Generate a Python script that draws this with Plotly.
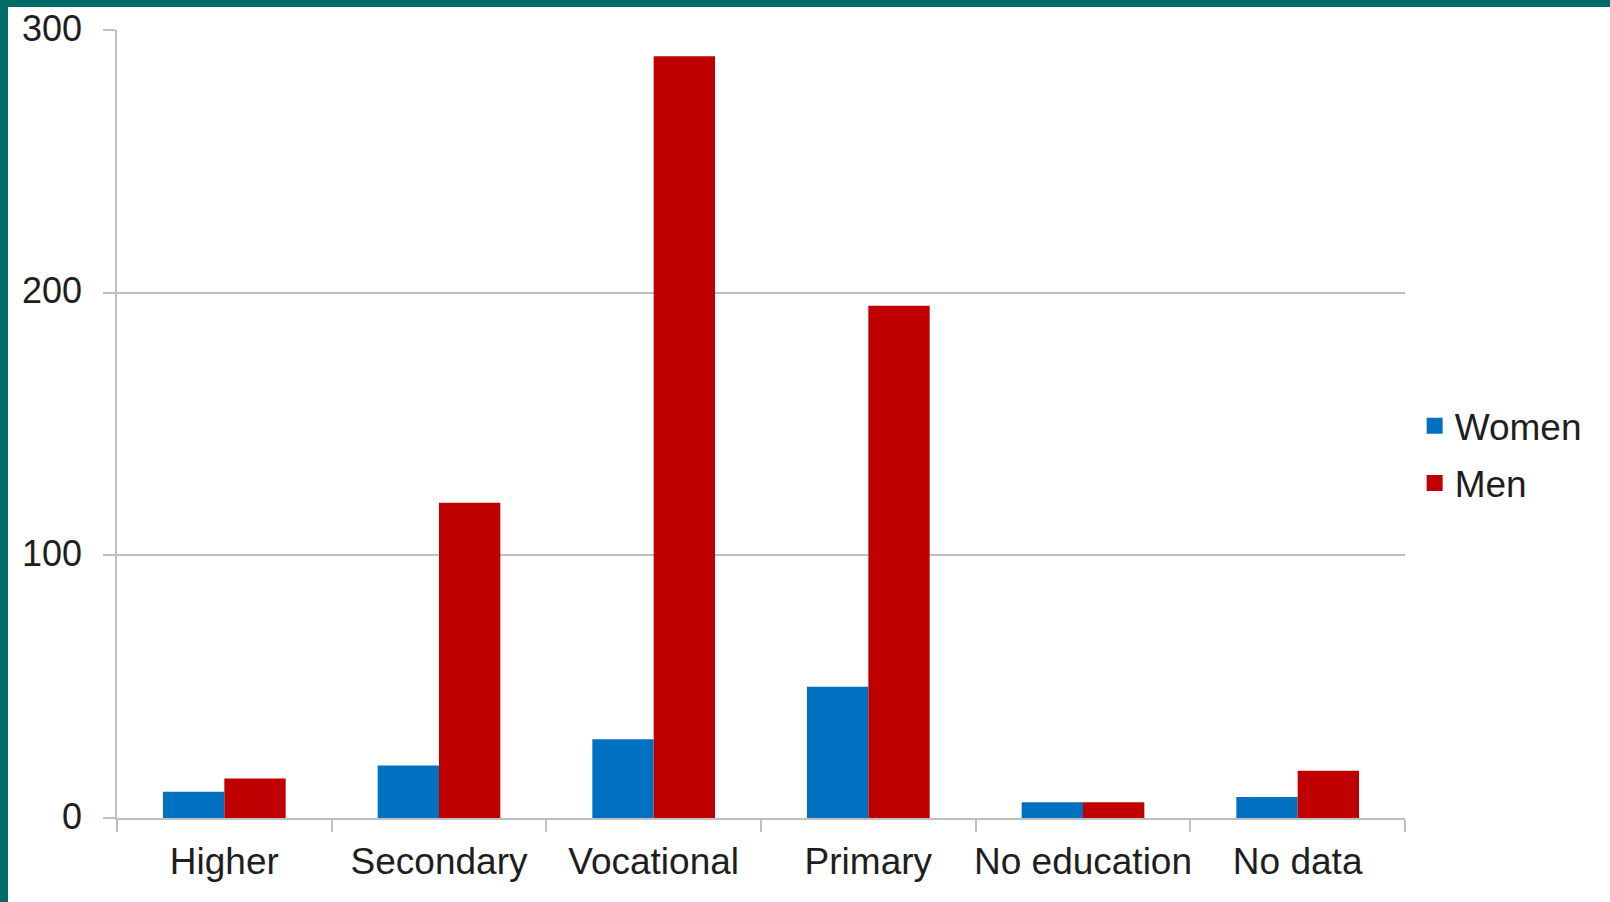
import plotly.graph_objects as go

categories = ["Higher", "Secondary", "Vocational", "Primary", "No education", "No data"]
women = [10, 20, 30, 50, 6, 8]
men = [15, 120, 290, 195, 6, 18]
y_ticks = [0, 100, 200, 300]

W, H = 1610, 902
ML, MR, MT, MB = 117, 205, 30, 84
PW, PH = W - ML - MR, H - MT - MB

BLUE = "#0070C0"
RED = "#C00000"
TEAL = "#006B67"
GRID = "#BFBFBF"
TXT = "#1E1E1E"
FONT = "Liberation Sans, Arial, sans-serif"

fig = go.Figure()
fig.add_trace(go.Bar(x=categories, y=women, name="Women", marker=dict(color=BLUE, line=dict(width=0)),
                     showlegend=False))
fig.add_trace(go.Bar(x=categories, y=men, name="Men", marker=dict(color=RED, line=dict(width=0)),
                     showlegend=False))
# legend entries
for nm, col, grp in [("Women", BLUE, "a"), ("Men", RED, "b")]:
    fig.add_trace(go.Scatter(x=[None], y=[None], mode="markers", name=nm, legendgroup=grp,
                             marker=dict(symbol="square", size=19, color=col)))

# teal frame decoration (top and left)
fig.add_shape(type="rect", xref="paper", yref="paper",
              x0=-ML / PW - 0.01, x1=(W - ML) / PW + 0.01, y0=1 + (MT - 7) / PH, y1=1 + MT / PH + 0.02,
              fillcolor=TEAL, line=dict(width=0), layer="above")
fig.add_shape(type="rect", xref="paper", yref="paper",
              x0=-ML / PW - 0.01, x1=-(ML - 8) / PW, y0=-MB / PH - 0.05, y1=1 + MT / PH + 0.02,
              fillcolor=TEAL, line=dict(width=0), layer="above")

fig.update_layout(
    width=W, height=H,
    margin=dict(l=ML, r=MR, t=MT, b=MB, pad=0, autoexpand=False),
    paper_bgcolor="white", plot_bgcolor="white",
    barmode="group", bargap=1.5 / 3.5, bargroupgap=0,
    font=dict(family=FONT, size=37, color=TXT),
    hovermode=False,
    legend=dict(x=1.0075, xanchor="left", y=0.461, yanchor="middle",
                font=dict(family=FONT, size=37, color=TXT),
                traceorder="grouped", tracegroupgap=6, itemsizing="trace",
                bgcolor="rgba(0,0,0,0)"),
)
fig.update_xaxes(
    showline=True, linecolor=GRID, linewidth=1.5,
    ticks="outside", tickson="boundaries", ticklen=12, tickcolor=GRID, tickwidth=1.5,
    tickfont=dict(family=FONT, size=37, color=TXT), tickangle=0, automargin=False,
    showgrid=False, zeroline=False, ticklabelstandoff=10,
)
fig.update_yaxes(
    range=[0, 300], tickvals=y_ticks, ticktext=[str(v) for v in y_ticks],
    showline=True, linecolor=GRID, linewidth=1.5,
    ticks="outside", ticklen=12, tickcolor=GRID, tickwidth=1.5,
    showgrid=True, gridcolor=GRID, gridwidth=1.5, zeroline=False,
    tickfont=dict(family=FONT, size=36, color=TXT), automargin=False,
    ticklabelstandoff=14, ticklabelshift=-2,
)

fig.write_html(
    "out.html",
    config={"displayModeBar": False},
    post_script="document.body.style.margin='0';document.body.style.overflow='hidden';"
                "document.documentElement.style.overflow='hidden';",
)
